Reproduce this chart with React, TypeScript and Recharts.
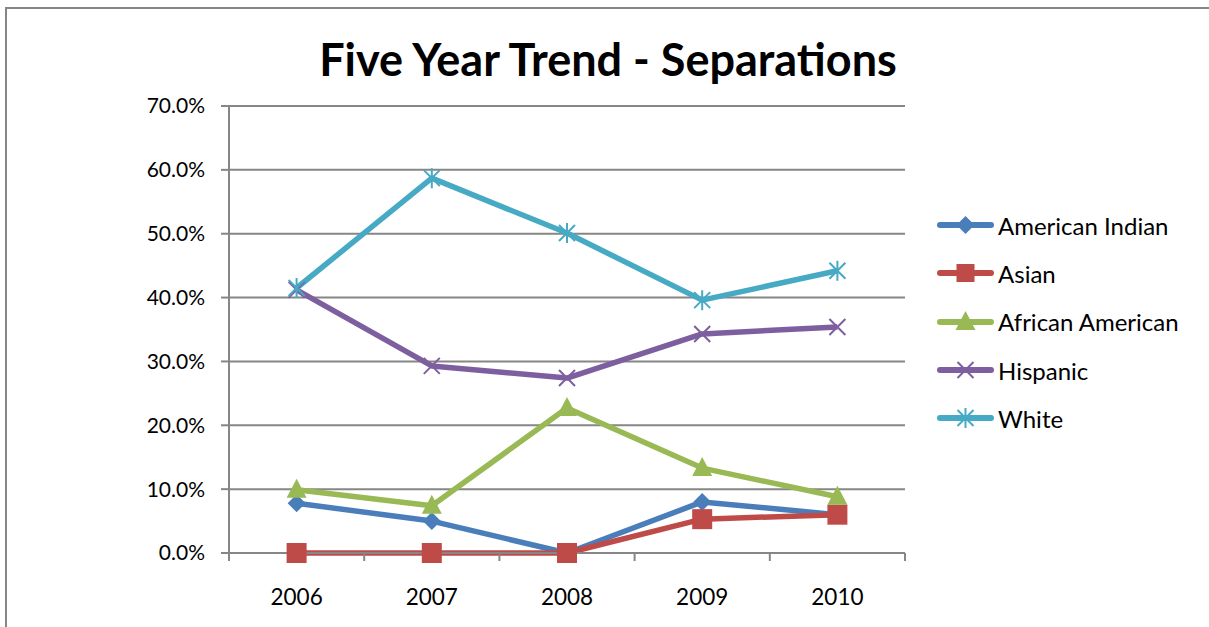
import React from 'react';
import { LineChart, Line, XAxis, YAxis, CartesianGrid, Legend } from 'recharts';

const years = ['2006', '2007', '2008', '2009', '2010'];
const americanIndian = [7.8, 5.0, 0.0, 8.0, 6.0];
const asian = [0.0, 0.0, 0.0, 5.3, 6.0];
const africanAmerican = [9.9, 7.4, 22.7, 13.3, 8.8];
const hispanic = [41.2, 29.3, 27.4, 34.3, 35.4];
const white = [41.5, 58.7, 50.1, 39.6, 44.2];
const yTicks = [0, 10, 20, 30, 40, 50, 60, 70];

type Kind = 'diamond' | 'square' | 'triangle' | 'x' | 'star';

const seriesList: { key: string; name: string; color: string; kind: Kind; values: number[] }[] = [
  { key: 'ai', name: 'American Indian', color: '#4A7EBB', kind: 'diamond', values: americanIndian },
  { key: 'as', name: 'Asian', color: '#BE4B48', kind: 'square', values: asian },
  { key: 'aa', name: 'African American', color: '#98B954', kind: 'triangle', values: africanAmerican },
  { key: 'hi', name: 'Hispanic', color: '#7D5FA0', kind: 'x', values: hispanic },
  { key: 'wh', name: 'White', color: '#46AAC5', kind: 'star', values: white },
];

const data = years.map((y, i) => {
  const row: Record<string, number | string> = { year: y };
  seriesList.forEach((s) => {
    row[s.key] = s.values[i];
  });
  return row;
});

const FONT = 'Lato, "Open Sans", sans-serif';
const GRID = '#868686';
const X_TICK_MARGIN = 36;
const X_TICK_LEN = 8;

function Shape({ kind, cx, cy, color, legend }: { kind: Kind; cx: number; cy: number; color: string; legend?: boolean }) {
  switch (kind) {
    case 'diamond':
      return <polygon points={`${cx},${cy - 9} ${cx + 9},${cy} ${cx},${cy + 9} ${cx - 9},${cy}`} fill={color} />;
    case 'square': {
      const h = legend ? 9 : 10;
      return <rect x={cx - h} y={cy - h} width={2 * h} height={2 * h} fill={color} />;
    }
    case 'triangle':
      return <polygon points={`${cx},${cy - 11} ${cx + 10},${cy + 8} ${cx - 10},${cy + 8}`} fill={color} />;
    case 'x':
      return (
        <path
          d={`M${cx - 8},${cy - 8}L${cx + 8},${cy + 8}M${cx + 8},${cy - 8}L${cx - 8},${cy + 8}`}
          stroke={color}
          strokeWidth={2}
          fill="none"
        />
      );
    case 'star':
    default:
      return (
        <path
          d={`M${cx - 8},${cy - 8}L${cx + 8},${cy + 8}M${cx + 8},${cy - 8}L${cx - 8},${cy + 8}M${cx},${cy - 10}L${cx},${cy + 10}`}
          stroke={color}
          strokeWidth={2}
          fill="none"
        />
      );
  }
}

function YearTick(props: any) {
  const { x, y, payload, index, visibleTicksCount, width } = props;
  const band = width / visibleTicksCount;
  const axisY = y - X_TICK_MARGIN;
  const left = x - band / 2;
  const right = x + band / 2;
  return (
    <g>
      <line x1={left} x2={left} y1={axisY} y2={axisY + X_TICK_LEN} stroke={GRID} strokeWidth={2} />
      {index === visibleTicksCount - 1 && (
        <line x1={right} x2={right} y1={axisY} y2={axisY + X_TICK_LEN} stroke={GRID} strokeWidth={2} />
      )}
      <text x={x} y={y} dy="0.71em" textAnchor="middle" fill="#000" fontSize={22.5} fontFamily={FONT}>
        {payload.value}
      </text>
    </g>
  );
}

function makeMarker(kind: Kind, color: string) {
  return (p: any) => {
    const vb = p.viewBox || {};
    const cx = vb.x ?? p.x;
    const cy = vb.y ?? p.y;
    if (cx == null || cy == null) return null;
    return <Shape kind={kind} cx={cx} cy={cy} color={color} />;
  };
}

function LegendContent() {
  return (
    <div style={{ fontFamily: FONT }}>
      {seriesList.map((s) => (
        <div key={s.key} style={{ display: 'flex', alignItems: 'center', height: 48.3 }}>
          <svg width={60} height={24} style={{ display: 'block' }}>
            <line x1={3} y1={12} x2={54} y2={12} stroke={s.color} strokeWidth={6} strokeLinecap="round" />
            <Shape kind={s.kind} cx={28.5} cy={12} color={s.color} legend />
          </svg>
          <span style={{ fontSize: 24, color: '#000', marginLeft: 1 }}>{s.name}</span>
        </div>
      ))}
    </div>
  );
}

export default function App() {
  return (
    <div style={{ position: 'absolute', left: 0, top: 0, width: 1209, height: 627, background: '#fff', overflow: 'hidden' }}>
      <div
        style={{
          position: 'absolute',
          left: 5,
          top: 7,
          right: -10,
          bottom: -10,
          borderTop: `2px solid ${GRID}`,
          borderLeft: `2px solid ${GRID}`,
        }}
      />
      <div
        style={{
          position: 'absolute',
          left: 0,
          width: 1216,
          top: 32,
          textAlign: 'center',
          fontFamily: FONT,
          fontWeight: 700,
          fontSize: 45,
          color: '#000',
          lineHeight: '54px',
        }}
      >
        Five Year Trend - Separations
      </div>
      <LineChart
        width={1209}
        height={627}
        data={data}
        margin={{ top: 106, right: 32, bottom: 0, left: 0 }}
        style={{ position: 'absolute', left: 0, top: 0 }}
      >
        <CartesianGrid vertical={false} stroke={GRID} strokeWidth={2} />
        <XAxis
          dataKey="year"
          scale="band"
          tickLine={false}
          axisLine={{ stroke: GRID, strokeWidth: 2 }}
          tickSize={0}
          tickMargin={X_TICK_MARGIN}
          height={74}
          interval={0}
          tick={<YearTick />}
        />
        <YAxis
          width={229}
          domain={[0, 70]}
          ticks={yTicks}
          tickFormatter={(v: number) => `${v.toFixed(1)}%`}
          tickSize={8}
          tickMargin={16}
          tickLine={{ stroke: GRID, strokeWidth: 2 }}
          axisLine={{ stroke: GRID, strokeWidth: 2 }}
          tick={{ fill: '#000', fontSize: 21, fontFamily: FONT }}
        />
        <Legend
          layout="vertical"
          align="right"
          verticalAlign="top"
          width={272}
          content={() => <LegendContent />}
          wrapperStyle={{ left: 937, top: 201, width: 272 }}
        />
        {seriesList.map((s) => (
          <Line
            key={s.key}
            dataKey={s.key}
            name={s.name}
            stroke={s.color}
            strokeWidth={5.5}
            strokeLinejoin="round"
            isAnimationActive={false}
            dot={false}
            label={makeMarker(s.kind, s.color)}
            activeDot={false}
          />
        ))}
      </LineChart>
    </div>
  );
}
